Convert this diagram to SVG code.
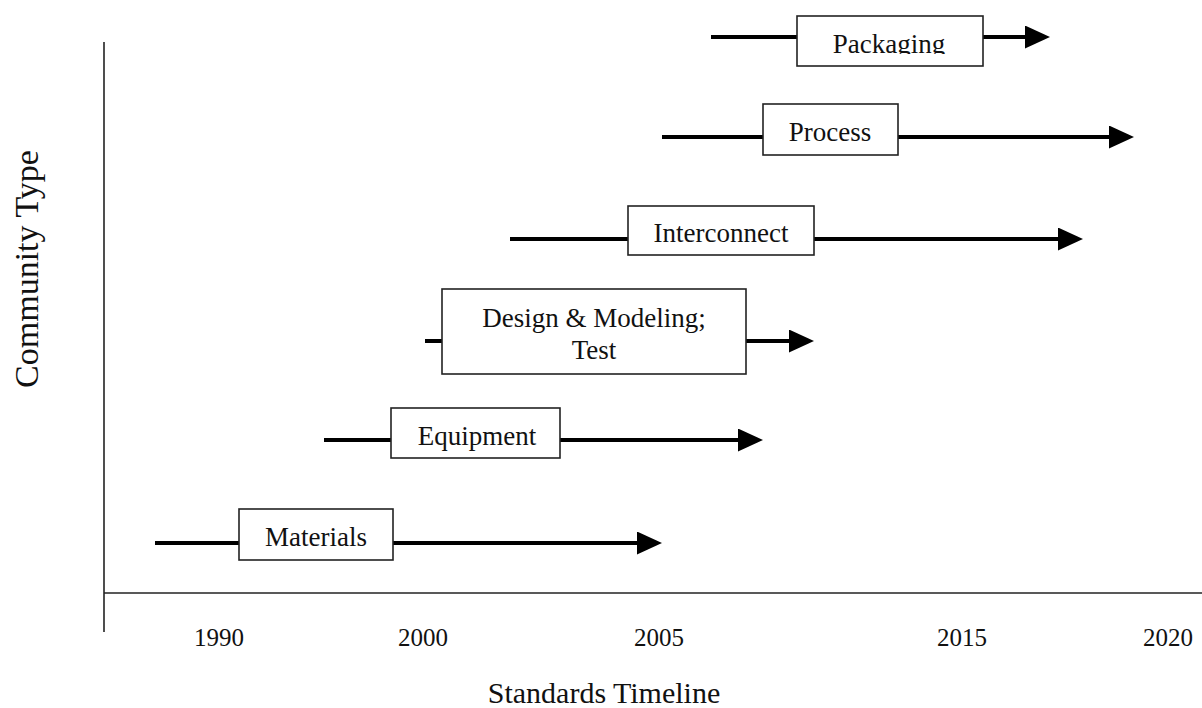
<svg xmlns="http://www.w3.org/2000/svg" width="1202" height="708" viewBox="0 0 1202 708">
<style>
.bar{stroke:#000;stroke-width:4;fill:none}
.box{fill:#fff;stroke:#222;stroke-width:1.6}
.lbl{font-family:"Liberation Serif","Times New Roman",serif;font-size:27px;fill:#111;text-anchor:middle}
.tick{font-family:"Liberation Serif","Times New Roman",serif;font-size:25px;fill:#111;text-anchor:middle}
.title{font-family:"Liberation Serif","Times New Roman",serif;font-size:30px;fill:#111;text-anchor:middle}
.vtitle{font-family:"Liberation Serif","Times New Roman",serif;font-size:34px;fill:#111;text-anchor:middle}
.axis{stroke:#222;stroke-width:1.6}
</style>
<defs>
<marker id="ah" markerWidth="25" markerHeight="23" refX="0" refY="11.5" orient="auto" markerUnits="userSpaceOnUse">
<path d="M0,0 L25,11.5 L0,23 Z" fill="#000"/>
</marker>
<clipPath id="pkgclip"><rect x="797" y="16" width="186" height="38"/></clipPath>
</defs>
<rect width="1202" height="708" fill="#fff"/>
<g id="axes">
<line class="axis" x1="104" y1="42" x2="104" y2="632"/>
<line class="axis" x1="104" y1="593" x2="1202" y2="593"/>
<text class="tick" x="219" y="646">1990</text>
<text class="tick" x="423" y="646">2000</text>
<text class="tick" x="659" y="646">2005</text>
<text class="tick" x="962" y="646">2015</text>
<text class="tick" x="1168" y="646">2020</text>
<text class="title" x="604" y="703">Standards Timeline</text>
<text class="vtitle" x="0" y="0" transform="translate(38,269) rotate(-90)">Community Type</text>
</g>
<g id="connectors">
<line class="bar" x1="711" y1="37" x2="1025" y2="37" marker-end="url(#ah)"/>
<line class="bar" x1="662" y1="137" x2="1109" y2="137" marker-end="url(#ah)"/>
<line class="bar" x1="510" y1="239" x2="1058" y2="239" marker-end="url(#ah)"/>
<line class="bar" x1="425" y1="341" x2="789" y2="341" marker-end="url(#ah)"/>
<line class="bar" x1="324" y1="440" x2="738" y2="440" marker-end="url(#ah)"/>
<line class="bar" x1="155" y1="543" x2="637" y2="543" marker-end="url(#ah)"/>
</g>
<g id="packaging">
<rect class="box" x="797" y="16" width="186" height="50"/>
<text class="lbl" x="889" y="53" clip-path="url(#pkgclip)">Packaging</text>
</g>
<g id="process">
<rect class="box" x="763" y="104" width="135" height="51"/>
<text class="lbl" x="830" y="141">Process</text>
</g>
<g id="interconnect">
<rect class="box" x="628" y="206" width="186" height="49"/>
<text class="lbl" x="721" y="242">Interconnect</text>
</g>
<g id="design">
<rect class="box" x="442" y="289" width="304" height="85"/>
<text class="lbl" x="594" y="327">Design &amp; Modeling;</text>
<text class="lbl" x="594" y="359">Test</text>
</g>
<g id="equipment">
<rect class="box" x="391" y="408" width="169" height="50"/>
<text class="lbl" x="477" y="445">Equipment</text>
</g>
<g id="materials">
<rect class="box" x="239" y="509" width="154" height="51"/>
<text class="lbl" x="316" y="546">Materials</text>
</g>
</svg>
